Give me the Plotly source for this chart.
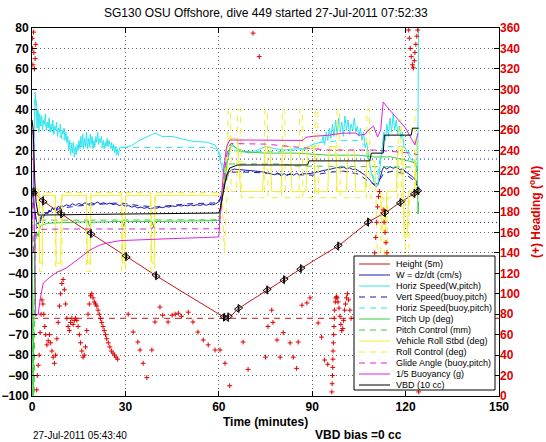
import plotly.graph_objects as go

# ---------------- data (time in minutes, values in left-axis units) ----------------
height_t = [0, 0.8, 3.2, 3.9, 6, 9, 9.7, 12, 15, 18.6, 19.3, 22, 26, 29.9, 30.6, 35, 39.5, 40.2, 45, 50, 55, 59,
            61.4, 62.0, 62.6, 63.4, 64.5, 66.0, 66.7, 70, 75.2, 75.9, 80.6, 81.3, 86.0, 86.7, 92, 98.0, 98.7, 103,
            107.6, 108.3, 113.0, 113.7, 118.0, 118.7, 122.5, 123.2, 123.8, 124.2]
height_v = [0, -0.6, -4.2, -5.0, -7.4, -10.4, -11.2, -13.6, -16.8, -20.2, -20.9, -23.6, -27.6, -31.4, -32.1, -36.4,
            -40.8, -41.5, -46, -50.8, -55.4, -59, -61.2, -61.7, -61.8, -61.0, -60, -57.5, -56.9, -53.6, -48.4, -47.8,
            -43.4, -42.8, -38.0, -37.4, -32.4, -27.0, -26.3, -21.0, -15.3, -14.6, -10.7, -10.2, -5.6, -5.0, -1.2,
            -0.6, 0.2, 0.4]

tri_left_t = [0.2, 3.2, 9.0, 18.6, 29.9, 39.5, 61.4, 62.6, 66.0, 75.2, 80.6, 86.0, 98.0, 107.6, 113.0, 118.0, 122.5, 123.8]
tri_left_v = [0.2, -4.2, -10.4, -20.2, -31.4, -40.8, -61.2, -61.8, -57.5, -48.4, -43.4, -38.0, -27.0, -15.3, -10.7, -5.6, -1.2, 0.2]
tri_right_t = [0.8, 3.9, 9.7, 19.3, 30.6, 40.2, 62.0, 63.4, 66.7, 75.9, 81.3, 86.7, 98.7, 108.3, 113.7, 118.7, 123.2, 124.2]
tri_right_v = [-0.6, -5.0, -11.2, -20.9, -32.1, -41.5, -61.7, -61.0, -56.9, -47.8, -42.8, -37.4, -26.3, -14.6, -10.2, -5.0, -0.6, 0.4]

w_t = [0, 0.5, 1, 1.5, 2, 2.5, 3, 3.5, 4, 4.5, 5, 5.5, 6, 6.5, 7, 7.5, 8, 8.5, 9, 9.5, 10, 11, 12, 13, 14, 15, 16, 17,
       18, 19, 20, 21, 22, 23, 24, 25, 26, 27, 28, 29, 30, 31, 32, 33, 34, 35, 36, 37, 38, 39, 40, 41, 42, 43, 44, 45,
       46, 47, 48, 49, 50, 51, 52, 53, 54, 55, 56, 57, 58, 59, 60, 61, 62, 63, 64, 65, 66, 68, 70, 72, 74, 76, 78, 79,
       80, 81, 82, 83, 84, 85, 86, 87, 88, 90, 92, 94, 96, 97, 98, 99, 100, 101, 102, 103, 104, 105, 106, 107, 108,
       109, 110, 110.5, 111, 111.5, 112, 112.5, 113, 114, 115, 116, 117, 118, 119, 120, 121, 122, 123, 123.5, 124]
w_v = [0, -4, -10, -15, -16, -14, -12, -13, -11, -10, -11, -9, -10, -8, -9, -7.5, -8.5, -7, -8, -6.5, -7.5, -6.5, -7, -6,
       -6.8, -5.8, -6.5, -5.5, -6.3, -5.5, -6, -5.2, -6, -5.4, -6.2, -5.6, -6.4, -6, -6.8, -6.4, -7.2, -6.8, -7.6, -7.2,
       -8, -7.6, -8.2, -7.8, -8.4, -8, -8.2, -7.6, -7.9, -7.3, -7.6, -7.0, -7.3, -6.8, -7.1, -6.7, -7.0, -6.5, -6.9,
       -6.4, -6.8, -6.3, -6.7, -6.2, -6.5, -6, -5, -1, 5, 9, 10.5, 11, 10.8, 10.6, 10.2, 10, 9.6, 9, 8.2, 9.2, 7.6, 8.8,
       7.8, 9.0, 8.0, 8.9, 8.1, 8.8, 8.6, 9, 9.8, 10.4, 11, 11.4, 11.8, 11.5, 12, 11.2, 11.6, 10.8, 11, 10, 9.2, 8,
       6.5, 5, 3, 2.2, 3, 5, 8, 10.5, 12, 11, 12.2, 11.4, 12, 10.8, 11, 9.8, 9, 7.5, 6, 5, 2]

hs_t = [0.3, 0.8, 1.0, 1.3, 1.6, 1.9, 2.2, 2.5, 2.8, 3.1, 3.4, 3.7, 4.0, 4.3, 4.6, 4.9, 5.2, 5.5, 5.8, 6.1, 6.4, 6.7, 7.0,
        7.3, 7.6, 7.9, 8.2, 8.5, 8.8, 9.1, 9.4, 9.7, 10.0, 10.3, 10.6, 10.9, 11.2, 11.5, 11.8, 12.1, 12.4, 12.7, 13.0,
        13.3, 13.6, 13.9, 14.2, 14.5, 14.8, 15.1, 15.4, 15.7, 16.0, 16.3, 16.6, 16.9, 17.2, 17.5, 17.8, 18.1, 18.4,
        18.7, 19.0, 19.3, 19.6, 19.9, 20.2, 20.5, 20.8, 21.1, 21.4, 21.7, 22.0, 22.3, 22.6, 22.9, 23.2, 23.5, 23.8,
        24.1, 24.4, 24.7, 25.0, 25.3, 25.6, 25.9, 26.2, 26.5, 26.8, 27.1, 27.4, 27.7, 28.0, 28.3, 30, 32, 34.7, 37,
        39.5, 42, 45, 48.5, 52, 56, 58.8, 59.8, 60.4, 61.5, 62.5, 63.2, 64, 66, 69.5, 72, 75, 78, 81, 84, 87.6, 91,
        93, 93.5, 94, 94.5, 95, 95.5, 96, 96.5, 97, 97.5, 98, 98.5, 99, 99.5, 100, 100.5, 101, 101.5, 102, 102.5, 103,
        103.5, 104, 104.5, 105, 105.5, 106, 106.5, 107, 107.5, 108, 108.5, 109, 109.5, 110, 110.5, 111, 111.5, 112,
        112.5, 113, 113.5, 114, 114.5, 115, 115.5, 116, 116.5, 117, 117.5, 118, 118.5, 119, 119.5, 120, 120.5, 121,
        121.5, 122, 122.5, 123, 123.5, 123.9, 124.2]
hs_v = [0, 35, 47, 44, 31, 40, 29, 38, 32, 37, 30, 35, 33, 38, 30, 34, 31, 36, 29, 33, 30, 35, 28, 32, 30, 34, 27, 31, 29,
        33, 26, 30, 28, 31, 25, 29, 24, 27, 20, 25, 18, 23, 19, 24, 17, 22, 18, 23, 20, 25, 21, 27, 22, 28, 21, 26, 22,
        29, 21, 26, 22, 28, 23, 27, 21, 25, 22, 27, 24, 29, 23, 26, 24, 27, 22, 25, 21, 24, 22, 26, 22, 25, 23, 21,
        24, 20, 23, 19, 22, 18, 21, 17.5, 20, 21.8, 21.5, 22.5, 25.2, 27, 28.6, 26.8, 27, 25.6, 24.5, 24.2, 22.8, 20,
        15.4, 9, 14, 19, 22.5, 21, 18.8, 20, 22, 21, 20.3, 20.8, 21, 23.6, 24, 27, 23, 29, 25, 31, 26, 33, 27, 35, 28,
        36, 29, 34, 27, 37, 30, 35, 28, 33, 30, 36, 29, 32, 27, 31, 25, 29, 22, 24, 17, 13, 9, 6, 4, 2.5, 3, 8, 15,
        22, 29, 25, 33, 27, 36, 29, 38, 30, 35, 28, 32, 26, 29, 22, 21, 19, 18, 16, 15.5, 14.5, 14, 12, 10, 95]

vs_t = [0, 0.5, 1, 1.5, 2, 3, 4, 6, 10, 15, 20, 28, 35, 40, 50, 60, 61, 62, 63, 64, 70, 80, 90, 96, 100, 105, 108, 110,
        111, 113, 116, 120, 123, 124]
vs_v = [0, -5, -12, -18, -17, -13, -11, -9.5, -8, -7, -6.5, -5.5, -7, -7.5, -6, -5.5, -2, 4, 8, 9.5, 9.5, 8.5, 8, 9.5,
        10, 8.5, 5, 3.5, 4, 9, 10, 8.5, 5, 2]

hb_t = [0.5, 1.0, 1.5, 2, 3, 4, 5, 6, 8, 10, 12, 14, 16, 20, 30, 40, 50, 58, 60, 61, 62, 63, 64, 70, 80, 90, 92, 100, 105,
        107, 108, 109, 110, 111, 112, 113, 120, 122, 123, 124]
hb_v = [10, 48.7, 42, 38, 35, 33, 31, 30, 28, 26, 24, 22.5, 22, 21.8, 21.6, 21.5, 21.6, 21.5, 20, 15, 10, 17, 20, 19.5,
        19.5, 21, 24, 25, 25, 22, 15, 10, 6, 8, 18, 22, 22, 17, 15, 13]

pu_t = [0, 0.2, 0.35, 0.6, 1.0, 1.5, 2, 2.5, 3, 4, 5, 8, 12, 18, 18.5, 19, 25, 29, 29.5, 30, 38.5, 39, 39.5, 50, 60, 61,
        62, 63, 64, 65, 67, 75, 85, 95, 105, 110, 115, 120, 123, 123.7, 124, 124.2]
pu_v = [0, -60, -100, -60, -25, -20, -22, -18, -16.5, -16, -15.5, -15.3, -15, -14.8, -17, -15, -14.8, -14.6, -17, -14.6,
        -14.6, -17, -14.6, -14.4, -14.2, -5, 8, 18, 23.7, 22, 19.5, 18.8, 18.8, 17.8, 17.8, 16.9, 17, 15.4, 14, 12, -11, -5]

pc_t = [0, 0.3, 0.7, 1.0, 1.5, 18, 18.5, 19, 60, 61, 62, 63, 80, 85, 110, 122, 124]
pc_v = [0, -100, -100, -30, -14, -14, -16, -14, -13.8, -2, 10, 13.5, 13.5, 12.5, 12, 12, 10]

roll_t = [0, 1.5, 2.2, 2.5, 3.2, 3.5, 7.5, 7.8, 9.2, 9.5, 17.5, 17.8, 18.6, 18.9, 28.8, 29.1, 29.8, 30.1, 38.2, 38.5,
          39.2, 39.5, 60, 61, 62, 63, 66, 67, 74, 75, 76.5, 77, 80, 80.5, 83, 83.5, 88, 88.5, 90.5, 91, 95, 95.5, 97.5,
          98, 101, 101.5, 103.5, 104, 107, 107.5, 110, 110.5, 112, 112.5, 113.5, 114, 117, 117.5, 119, 119.5, 120.5,
          121, 123, 123.5, 124]
roll_v = [0, 1, 1, -35, -35, -2, -2, -35, -35, -2, -2, -35, -35, -2, -2, -35, -35, -2, -2, -35, -35, -2, -2, 0, 10, 26,
          26, 0, 0, 22, 22, 0, 0, 22, 22, 0, 0, 22, 22, 0, 0, 22, 22, 0, 0, 20, 20, 0, 0, 15, 15, 0, 0, -19, -19, 0, 0,
          22, 22, -22, -22, 0, 0, 25, 25]

rc_t = [0, 1.5, 2.3, 2.4, 3.4, 3.5, 7.4, 7.5, 9.6, 9.7, 17.4, 17.5, 18.8, 18.9, 28.7, 28.8, 30.0, 30.1, 38.1, 38.2, 39.4,
        39.5, 61, 61.8, 62.6, 63, 63.8, 64, 65.7, 66, 67, 67.2, 74.6, 74.8, 75.6, 75.8, 80.2, 80.4, 81.2, 81.4, 85.8,
        86, 86.8, 87, 90.8, 91, 91.8, 92, 97.8, 98, 98.8, 99, 107.4, 107.6, 108.4, 108.6, 110.5, 111, 112, 112.2, 113,
        113.2, 114, 114.2, 117.5, 117.7, 118.5, 118.7, 119.8, 120, 121, 121.2, 122.8, 123, 124]
rc_v = [0, 1.5, 1.5, -39, -39, -0.5, -0.5, -39, -39, -0.5, -0.5, -39, -39, -0.5, -0.5, -39, -39, -0.5, -0.5, -39, -39,
        -0.5, -0.5, -30, -3, 40, 40, 0, 0, 40, 40, -3, -3, 40, 40, -3, -3, 40, 40, -3, -3, 40, 40, -3, -3, 40, 40, -3,
        -3, 40, 40, -3, -3, 40, 40, -3, -3, -35, -35, -3, -3, -40, -40, -3, -3, 35, 35, -3, -3, -45, -45, -3, -3, 40, 40]

ga_t = [0, 0.5, 1, 1.5, 3, 10, 38.5, 39, 39.5, 60, 61, 62, 63, 64, 75, 85, 95, 110, 122, 124]
ga_v = [0, -30, -22, -19.5, -18.5, -18.3, -18.3, -17, -18.3, -18.2, -5, 12, 22, 23.5, 23.2, 21.8, 20.3, 20.3, 18.8, 18]

buoy_t = [0, 0.3, 0.6, 0.9, 1.2, 2.0, 2.6, 3.6, 5.8, 8, 11, 14, 18.6, 22, 24, 28.3, 35, 45, 55, 60, 60.5, 61.5, 62.5,
          63.5, 70, 80, 87, 88, 90, 95, 100, 104, 105, 107, 108, 109.7, 111, 112, 112.8, 114, 116, 118, 120, 122, 123,
          123.5, 124]
buoy_v = [28, 30, 0, -40, -61, -60, -53, -44.8, -41.8, -39.5, -37.4, -34, -28.6, -26, -25.2, -24, -23.5, -23, -22.5,
          -22.2, -10, 10, 22, 25.2, 25.2, 25.2, 25, 26.5, 27, 27.5, 28.6, 28.6, 27.6, 28, 30, 32, 26.7, 30, 43.8, 41.5,
          38, 34.5, 31, 25.5, 22.8, 26, 28.6]

vbd_t = [0, 0.4, 0.9, 1.3, 2, 10, 30, 60, 60.5, 61.5, 62.5, 63.5, 66, 88.5, 89, 108.5, 109, 112.8, 113.2, 121.8,
         122.2, 124.2]
vbd_v = [35, 30, 5, -5, -11.5, -11.3, -11, -10.5, -8, 0, 8, 11.5, 13, 13, 15, 15, 18.8, 18.8, 27.6, 27.6, 31, 31]

# heading (deg magnetic, right axis)
head_t = [0.1, 0.2, 0.3, 0.5, 0.6, 0.8, 1.0, 1.2,
          1.5, 1.7, 2.0, 2.3, 2.6, 2.9, 3.2, 3.5, 3.8, 4.1, 4.4, 4.8, 5.2, 5.6, 6.0, 6.4, 6.8, 7.2, 7.6, 8.0, 8.4,
          8.8, 9.2, 9.6, 10.0, 10.4, 10.8, 11.2, 11.6, 12.0, 12.4, 12.8, 13.2, 13.6, 14.0, 14.4, 14.8, 15.2, 15.6,
          16.0, 16.4, 16.8, 17.2, 17.6, 18.0, 18.4, 18.8, 19.2, 19.6, 20.0, 20.4, 20.8, 21.2, 21.6, 22.0, 22.4, 22.8,
          23.2, 23.6, 24.0, 24.5, 25.0, 25.5, 26.0, 26.5, 27.0, 27.5,
          30.9, 32.5, 34.0, 34.7, 35.7, 36.9, 38.5, 39.5, 41.1, 42.0, 43.7, 45.0, 46.0, 47.0, 48.0, 50.2, 51.7, 53.3,
          55.0, 56.6, 58.8, 60.4, 62.0, 63.5, 67.8, 69.4, 71.0, 73.0, 75.0, 75.8, 77.0, 77.4, 78.7, 79.7, 80.7, 82.9,
          83.9, 85.0, 85.5, 86.7, 88.3, 89.3, 91.9, 93.0, 94.0, 95.0,
          96.3, 96.4, 96.5, 96.6, 96.65, 96.7, 96.8, 96.9, 97.0, 97.1, 97.2, 97.4, 97.6, 97.8, 98.0, 98.3, 98.6, 98.9,
          99.2, 99.5, 99.8, 100.1, 100.4, 100.7, 101.0, 101.3, 101.7, 102.1, 102.5,
          109.8, 110.1, 110.4, 110.7, 111.0, 111.3, 111.6, 112.8, 113.1, 113.4, 113.7, 114.0, 114.3, 114.6,
          121.0, 121.2, 121.5, 121.8, 122.2, 122.5, 122.8, 123.0, 123.3, 123.6, 123.9, 124.2]
head_v = [350, 340, 324, 356, 336, 320, 330, 344,
          6, 20, 30, 40, 62, 80, 94, 90, 80, 68, 60, 50, 54, 60, 52, 44, 38, 32, 40, 56, 72,
          88, 100, 110, 114, 104, 90, 76, 68, 64, 72, 76, 70, 74, 76, 74, 68, 60, 52,
          44, 38, 40, 48, 64, 80, 90, 98, 100, 96, 92, 90, 88, 84, 80, 76, 72, 68,
          64, 60, 56, 52, 48, 44, 42, 40, 38, 36,
          80, 62.6, 52.8, 45, 32, 18, 45, 72.4, 87, 79, 72.4, 79, 80, 81, 78, 82, 72.4, 62.6,
          54.8, 50, 45, 45, 32, 10, 52.8, 26, 355, 332, 38, 68, 84, 72, 54.8, 38, 62, 52,
          38, 27, 52.8, 88.8, 91, 96, 71.4, 57.6, 35.2, 31,
          4, 12, 20, 28, 36, 44, 52, 60, 68, 76, 84, 92, 96, 97, 96, 92, 86, 78,
          70, 64, 66, 74, 84, 90, 96, 100, 94, 84, 76,
          120, 140, 155, 170, 185, 195, 200, 182, 170, 160, 150, 140, 130, 120,
          358, 350, 340, 332, 324, 321, 328, 336, 344, 352, 358, 4]

target_depth = -62          # dashed red line, height units
w_limits = [15.9, -15.1]    # dotted blue lines

series_names = ["Height (5m)", "W = dz/dt (cm/s)", "Horiz Speed(W,pitch)", "Vert Speed(buoy,pitch)",
                "Horiz Speed(buoy,pitch)", "Pitch Up (deg)", "Pitch Control (mm)", "Vehicle Roll Stbd (deg)",
                "Roll Control (deg)", "Glide Angle (buoy,pitch)", "1/5 Buoyancy (g)", "VBD (10 cc)"]

x_ticks = [0, 30, 60, 90, 120, 150]
y_ticks = list(range(-100, 81, 10))
y2_ticks = list(range(0, 361, 20))

# ---------------- styling ----------------
RED = '#e00000'
HRED = '#c81414'
BLUE = '#1a1ab0'
CYAN = '#2fe4ee'
GREEN = '#3ccc3c'
YELLOW = '#f2ee30'
MAGENTA = '#dc22dc'
BLACK = '#000000'
DASH = '6px,5px'
FONT = 'Liberation Sans, Arial, Helvetica, sans-serif'

styles = [(HRED, 'solid'), (BLUE, 'solid'), (CYAN, 'solid'), (BLUE, DASH), (CYAN, DASH), (GREEN, 'solid'),
          (GREEN, DASH), (YELLOW, 'solid'), (YELLOW, DASH), (MAGENTA, DASH), (MAGENTA, 'solid'), (BLACK, 'solid')]

series = [(height_t, height_v), (w_t, w_v), (hs_t, hs_v), (vs_t, vs_v), (hb_t, hb_v), (pu_t, pu_v), (pc_t, pc_v),
          (roll_t, roll_v), (rc_t, rc_v), (ga_t, ga_v), (buoy_t, buoy_v), (vbd_t, vbd_v)]

fig = go.Figure()

# reference lines
fig.add_trace(go.Scatter(x=[x_ticks[0], x_ticks[-1]], y=[target_depth, target_depth], mode='lines',
                         line=dict(color=HRED, width=1, dash=DASH), showlegend=False, hoverinfo='skip'))
for lim in w_limits:
    fig.add_trace(go.Scatter(x=[x_ticks[0], x_ticks[-1]], y=[lim, lim], mode='lines',
                             line=dict(color=BLUE, width=1, dash='1px,3px'), showlegend=False, hoverinfo='skip'))

for (t, v), (c, d) in zip(series, styles):
    fig.add_trace(go.Scatter(x=t, y=v, mode='lines', line=dict(color=c, width=1, dash=d),
                             showlegend=False, hoverinfo='skip'))

fig.add_trace(go.Scatter(x=tri_left_t, y=tri_left_v, mode='markers', showlegend=False, hoverinfo='skip',
                         marker=dict(symbol='triangle-left-open', size=6, color=BLACK, line=dict(width=1, color=BLACK))))
fig.add_trace(go.Scatter(x=tri_right_t, y=tri_right_v, mode='markers', showlegend=False, hoverinfo='skip',
                         marker=dict(symbol='triangle-right-open', size=6, color=BLACK, line=dict(width=1, color=BLACK))))

fig.add_trace(go.Scatter(x=head_t, y=head_v, mode='markers', yaxis='y2', showlegend=False, hoverinfo='skip',
                         marker=dict(symbol='cross-thin', size=3.5, color=RED, line=dict(width=1, color=RED))))

# ---------------- layout ----------------
L, R, T, B = 32, 499, 28, 396
W_, H_ = 546, 442

def px(xp):
    return (xp - L) / (R - L)

def py(yp):
    return (B - yp) / (B - T)

grid = dict(showgrid=True, gridcolor='#666666', griddash='1px,3px', gridwidth=1, zeroline=False)
fig.update_layout(
    width=W_, height=H_, margin=dict(l=L, r=W_ - R, t=T, b=H_ - B, autoexpand=False),
    paper_bgcolor='white', plot_bgcolor='white', showlegend=False,
    font=dict(family=FONT, color='black'),
    xaxis=dict(range=[0, 150], tickvals=x_ticks, ticks='inside', ticklen=5, tickcolor='black', automargin=False,
               showline=True, linecolor='black', linewidth=1, mirror='ticks',
               tickfont=dict(size=12, family=FONT, weight='bold', color='black'), **grid),
    yaxis=dict(range=[-100, 80], tickvals=y_ticks, ticks='inside', ticklen=5, tickcolor='black', automargin=False,
               showline=True, linecolor='black', linewidth=1, mirror='ticks',
               tickfont=dict(size=12, family=FONT, weight='bold', color='black'), **grid),
    yaxis2=dict(range=[0, 360], tickvals=y2_ticks, overlaying='y', side='right', ticks='inside', ticklen=5,
                tickcolor='black', showline=False, showgrid=False, zeroline=False, automargin=False,
                tickfont=dict(size=12, family=FONT, weight='bold', color=RED)),
)

ann = []
ann.append(dict(text="SG130 OSU Offshore, dive 449 started 27-Jul-2011 07:52:33", x=0.5, y=py(13),
                font=dict(size=12, family=FONT, color='black')))
ann.append(dict(text="Time (minutes)", x=px(265), y=py(422), font=dict(size=12, family=FONT, weight='bold')))
ann.append(dict(text="27-Jul-2011 05:43:40", x=px(31), y=py(435), xanchor='left',
                font=dict(size=10, family=FONT)))
ann.append(dict(text="VBD bias =0 cc", x=px(313), y=py(435), xanchor='left',
                font=dict(size=12, family=FONT, weight='bold')))
ann.append(dict(text="(+) Heading (<sup>o</sup>M)", x=px(535), y=0.5, textangle=-90,
                font=dict(size=12, family=FONT, weight='bold', color=RED)))

shapes = []
shapes.append(dict(type='rect', xref='paper', yref='paper', x0=px(354), x1=px(495), y0=py(390), y1=py(256),
                   fillcolor='white', line=dict(color='black', width=1), layer='above'))
for i, (name, (c, d)) in enumerate(zip(series_names, styles)):
    yy = 264 + 11.0 * i
    shapes.append(dict(type='line', xref='paper', yref='paper', x0=px(359), x1=px(390), y0=py(yy), y1=py(yy),
                       line=dict(color=c, width=1, dash=d), layer='above'))
    ann.append(dict(text=name, x=px(394), y=py(yy), xanchor='left', font=dict(size=9, family=FONT)))

for a in ann:
    a.setdefault('xref', 'paper')
    a.setdefault('yref', 'paper')
    a.setdefault('showarrow', False)
    a.setdefault('xanchor', 'center')
    a.setdefault('yanchor', 'middle')
fig.update_layout(annotations=ann, shapes=shapes)

fig.write_html("out.html", config={'displayModeBar': False},
               post_script="document.body.style.margin='0px';")
